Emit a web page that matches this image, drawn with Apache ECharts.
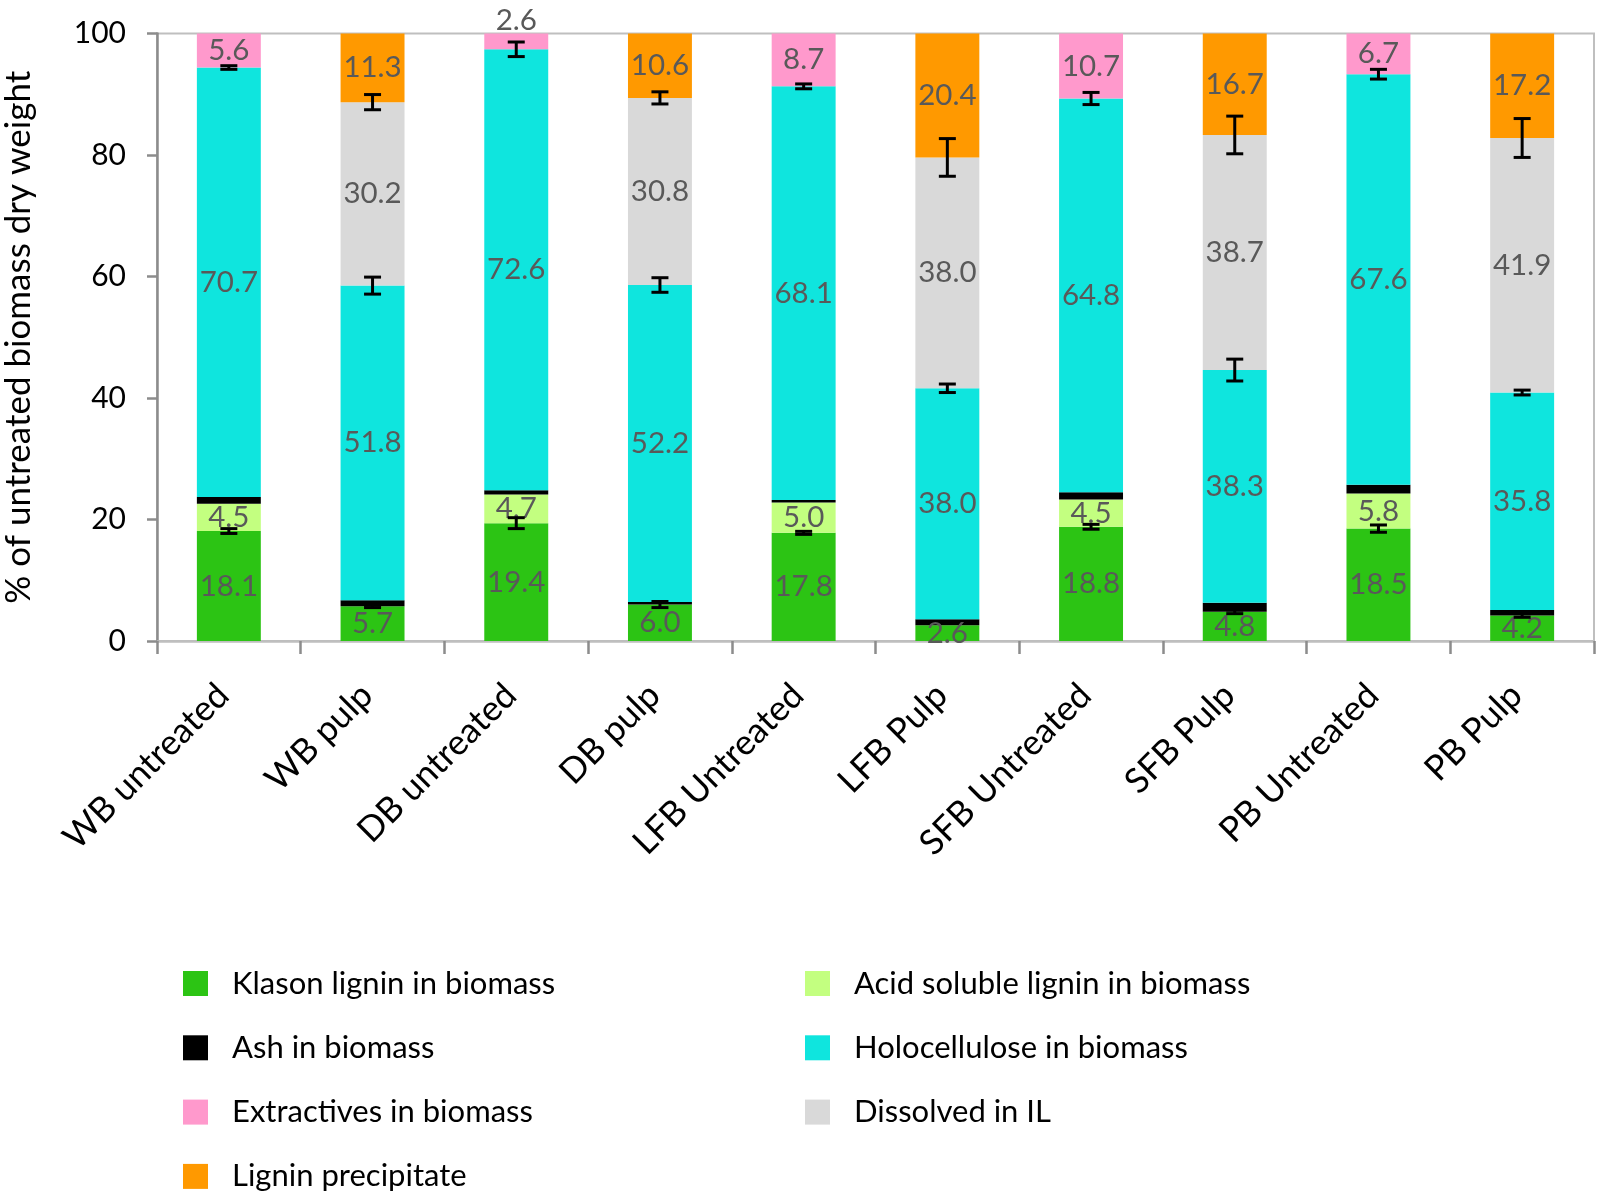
<!DOCTYPE html>
<html><head><meta charset="utf-8">
<script src="https://cdn.jsdelivr.net/npm/echarts@6/dist/echarts.min.js"></script>
<style>html,body{margin:0;padding:0;background:#fff}#c{width:1598px;height:1195px}</style>
</head><body><div id="c"></div>
<script>
const categories = ['WB untreated','WB pulp','DB untreated','DB pulp','LFB Untreated','LFB Pulp','SFB Untreated','SFB Pulp','PB Untreated','PB Pulp'];
const klason      = [18.1, 5.7, 19.4, 6.0, 17.8, 2.6, 18.8, 4.8, 18.5, 4.2];
const acidSoluble = [4.5, 0, 4.7, 0, 5.0, 0, 4.5, 0, 5.8, 0];
const ash         = [1.1, 1.0, 0.7, 0.4, 0.4, 1.0, 1.2, 1.5, 1.4, 0.9];
const holo        = [70.7, 51.8, 72.6, 52.2, 68.1, 38.0, 64.8, 38.3, 67.6, 35.8];
const extractives = [5.6, 0, 2.6, 0, 8.7, 0, 10.7, 0, 6.7, 0];
const dissolved   = [0, 30.2, 0, 30.8, 0, 38.0, 0, 38.7, 0, 41.9];
const ligninPrec  = [0, 11.3, 0, 10.6, 0, 20.4, 0, 16.7, 0, 17.2];
// error bar half-widths (at top of the named segment)
const errKlason    = [0.4, 0.2, 0.9, 0.5, 0.25, null, 0.4, 0.3, 0.6, 0.3];
const errHolo      = [0.3, 1.4, 1.2, 1.2, 0.4, 0.7, 1.0, 1.8, 0.8, 0.4];
const errDissolved = [null, 1.25, null, 1.0, null, 3.1, null, 3.1, null, 3.2];
const yTicks = [0, 20, 40, 60, 80, 100];

const FONT = 'Lato';
const seriesDefs = [
  ['Klason lignin in biomass', klason, '#2CC414'],
  ['Acid soluble lignin in biomass', acidSoluble, '#C3FF80'],
  ['Ash in biomass', ash, '#000000'],
  ['Holocellulose in biomass', holo, '#0FE5DE'],
  ['Extractives in biomass', extractives, '#FF99CC'],
  ['Dissolved in IL', dissolved, '#D9D9D9'],
  ['Lignin precipitate', ligninPrec, '#FF9900']
];
// legend layout: [name, column, row]
const legendLayout = [
  ['Klason lignin in biomass', 0, 0],
  ['Acid soluble lignin in biomass', 1, 0],
  ['Ash in biomass', 0, 1],
  ['Holocellulose in biomass', 1, 1],
  ['Extractives in biomass', 0, 2],
  ['Dissolved in IL', 1, 2],
  ['Lignin precipitate', 0, 3]
];

const labelStyle = {show:true, position:'inside', color:'#595959', fontFamily:FONT, fontSize:29.5,
  formatter: p => (p.value && p.seriesName !== 'Ash in biomass') ? p.value.toFixed(1) : ''};

const series = seriesDefs.map(([name, vals, color]) => ({
  name, type:'bar', stack:'total', barWidth:'44.5%',
  itemStyle:{color},
  label: labelStyle,
  data: vals.map((v, i) => {
    if (name === 'Extractives in biomass' && i === 2) {
      return {value:v, label:{position:'top', distance:-2}};
    }
    return v;
  })
}));

const errData = [];
for (let i = 0; i < categories.length; i++) {
  const kTop = klason[i];
  const hTop = klason[i] + acidSoluble[i] + ash[i] + holo[i];
  const dTop = hTop + dissolved[i];
  if (errKlason[i] != null) errData.push([i, kTop, errKlason[i]]);
  if (errHolo[i] != null) errData.push([i, hTop, errHolo[i]]);
  if (errDissolved[i] != null) errData.push([i, dTop, errDissolved[i]]);
}
series.push({
  name:'err', type:'custom', z:10, silent:true,
  renderItem: (params, api) => {
    const x = api.value(0), c = api.value(1), e = api.value(2);
    const hi = api.coord([x, c + e]), lo = api.coord([x, c - e]);
    const hw = 8.5;
    const st = {stroke:'#000', lineWidth:3};
    return {type:'group', children:[
      {type:'line', shape:{x1:hi[0], y1:hi[1], x2:lo[0], y2:lo[1]}, style:st},
      {type:'line', shape:{x1:hi[0]-hw, y1:hi[1], x2:hi[0]+hw, y2:hi[1]}, style:st},
      {type:'line', shape:{x1:lo[0]-hw, y1:lo[1], x2:lo[0]+hw, y2:lo[1]}, style:st}
    ]};
  },
  encode:{x:0, y:1},
  data: errData
});

const legendLeft = [183, 805];
const legends = legendLayout.map(([name, col, row]) => ({
  orient:'horizontal', left:legendLeft[col], top:968 + row * 64.3, padding:0,
  itemWidth:25, itemHeight:25, icon:'rect', selectedMode:false,
  textStyle:{fontFamily:FONT, fontSize:31, color:'#000', lineHeight:30, padding:[0,0,0,19]},
  data:[name]
}));

const option = {
  animation:false,
  backgroundColor:'#fff',
  grid:{left:157, right:4, top:33.5, bottom:554, outerBoundsMode:'none', containLabel:false,
    show:true, borderColor:'#BFBFBF', borderWidth:2, backgroundColor:'transparent'},
  legend: legends,
  xAxis:{type:'category', data:categories,
    axisLine:{lineStyle:{color:'#BFBFBF', width:2.5}},
    axisTick:{show:true, length:13, lineStyle:{color:'#8C8C8C', width:2.5}},
    axisLabel:{rotate:45, margin:43, interval:0, color:'#000', fontFamily:FONT, fontSize:35, padding:[0,8,0,0]}
  },
  yAxis:{type:'value', min:yTicks[0], max:yTicks[yTicks.length-1], interval:20,
    name:'% of untreated biomass dry weight', nameLocation:'middle', nameGap:121,
    nameTextStyle:{fontFamily:FONT, fontSize:35, color:'#000'},
    axisLine:{show:true, lineStyle:{color:'#8C8C8C', width:2.5}},
    axisTick:{show:true, length:10, lineStyle:{color:'#8C8C8C', width:2.5}},
    splitLine:{show:false},
    axisLabel:{margin:31, color:'#000', fontFamily:FONT, fontSize:30}
  },
  series
};
const chart = echarts.init(document.getElementById('c'), null, {renderer:'canvas'});
chart.setOption(option);
</script></body></html>
